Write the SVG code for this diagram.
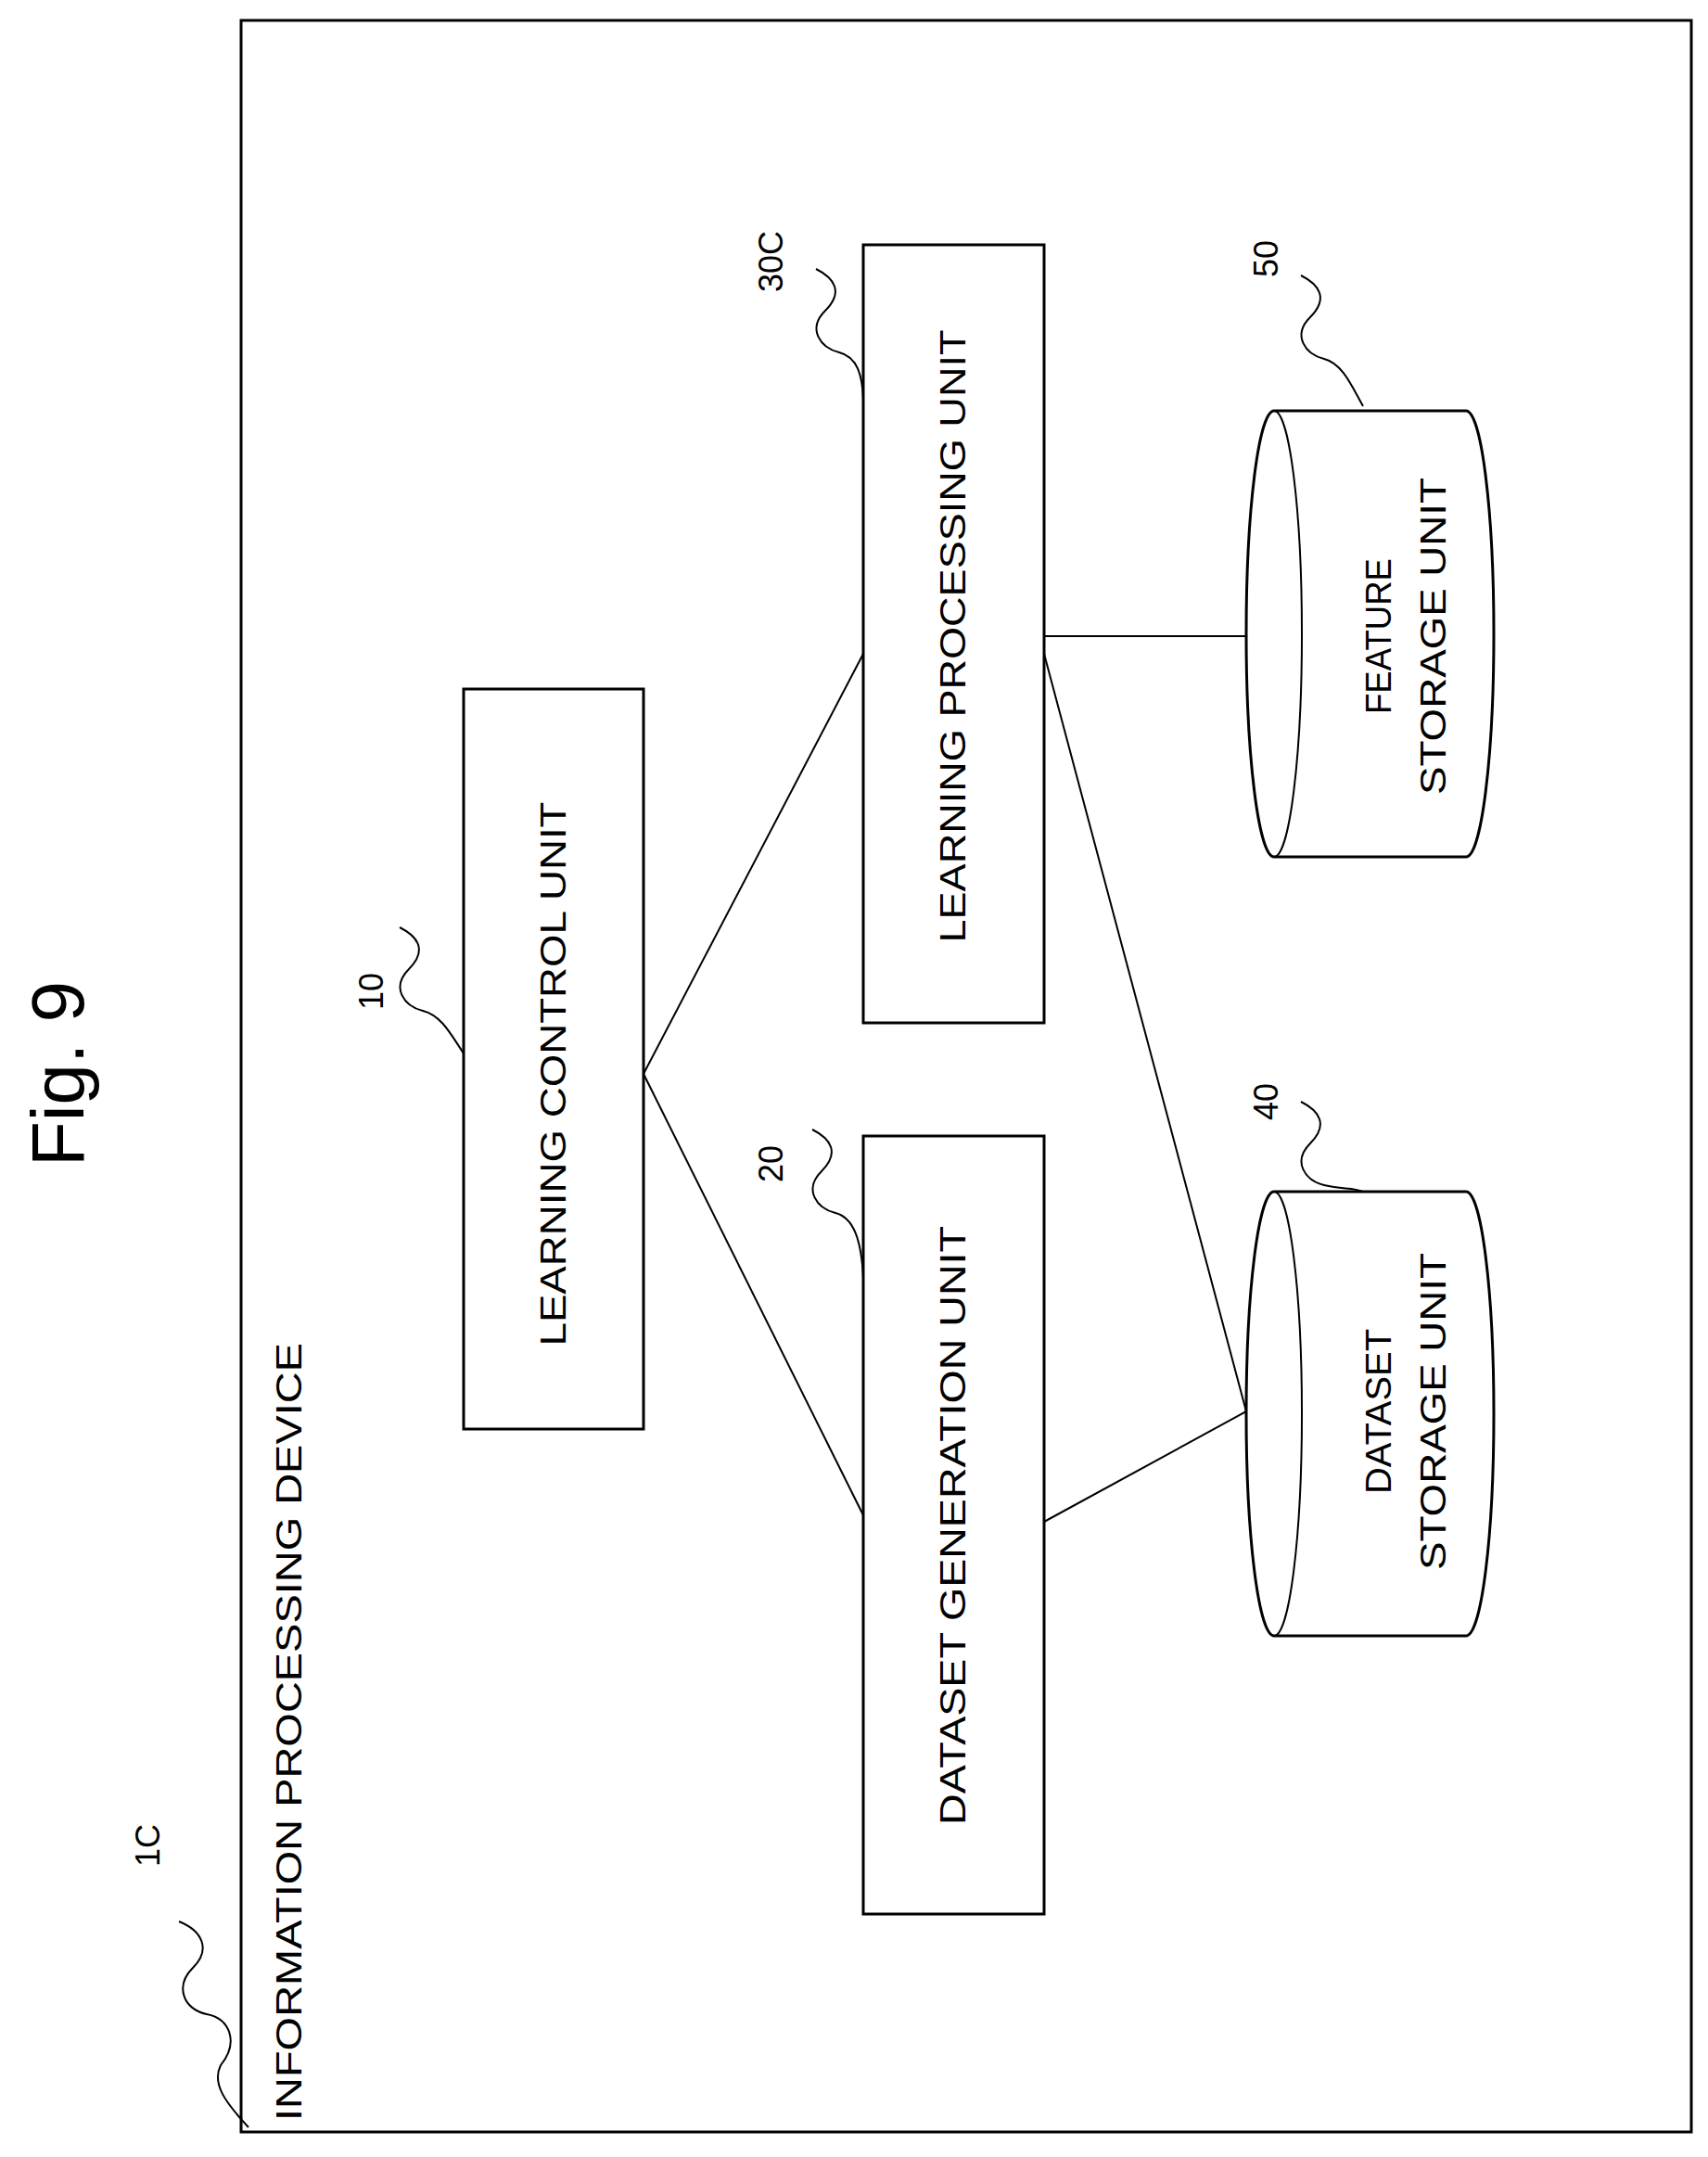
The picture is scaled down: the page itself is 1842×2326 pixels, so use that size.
<svg xmlns="http://www.w3.org/2000/svg" width="1842" height="2326" viewBox="0 0 1842 2326">
<style>
.b{fill:#fff;stroke:#000;stroke-width:3}
.l{fill:none;stroke:#000;stroke-width:2}
.t{font-family:"Liberation Sans",Arial,sans-serif;font-size:38px;fill:#000;text-anchor:middle}
.n{font-family:"Liberation Sans",Arial,sans-serif;font-size:36px;fill:#000;text-anchor:middle}
</style>
<rect width="1842" height="2326" fill="#fff"/>
<text x="90" y="1158" transform="rotate(-90 90 1158)" font-family="Liberation Sans,Arial,sans-serif" font-size="80" text-anchor="middle">Fig. 9</text>
<g id="device">
<rect class="b" x="260" y="22" width="1564" height="2277"/>
<text class="t" x="325" y="2287" text-anchor="start" style="text-anchor:start" textLength="839" lengthAdjust="spacingAndGlyphs" transform="rotate(-90 325 2287)">INFORMATION PROCESSING DEVICE</text>
<text class="n" x="172" y="1990" transform="rotate(-90 172 1990)">1C</text>
<path class="l" d="M193 2072 c25 10 35 30 15 50 c-20 20 -10 45 15 50 c25 5 35 30 15 55 c-10 20 5 40 30 67"/>
</g>
<g id="connectors">
<line class="l" x1="694" y1="1158" x2="931" y2="705"/>
<line class="l" x1="694" y1="1158" x2="931" y2="1634"/>
<line class="l" x1="1126" y1="686" x2="1344" y2="686"/>
<line class="l" x1="1126" y1="705" x2="1344" y2="1522"/>
<line class="l" x1="1126" y1="1641" x2="1344" y2="1522"/>
</g>
<g id="n10">
<rect class="b" x="500" y="743" width="194" height="798"/>
<text class="t" x="610" y="1158" textLength="587" lengthAdjust="spacingAndGlyphs" transform="rotate(-90 610 1158)">LEARNING CONTROL UNIT</text>
<text class="n" x="413" y="1069" transform="rotate(-90 413 1069)">10</text>
<path class="l" d="M431 1000 c20 10 30 25 10 45 c-20 20 -5 40 15 45 c20 5 30 25 44 46"/>
</g>
<g id="n30C">
<rect class="b" x="931" y="264" width="195" height="839"/>
<text class="t" x="1041" y="686" textLength="661" lengthAdjust="spacingAndGlyphs" transform="rotate(-90 1041 686)">LEARNING PROCESSING UNIT</text>
<text class="n" x="844" y="282" transform="rotate(-90 844 282)">30C</text>
<path class="l" d="M880 290 c20 10 30 25 10 45 c-20 20 -5 40 15 45 c20 5 25 25 26 51"/>
</g>
<g id="n20">
<rect class="b" x="931" y="1225" width="195" height="839"/>
<text class="t" x="1041" y="1645" textLength="646" lengthAdjust="spacingAndGlyphs" transform="rotate(-90 1041 1645)">DATASET GENERATION UNIT</text>
<text class="n" x="844" y="1255" transform="rotate(-90 844 1255)">20</text>
<path class="l" d="M876 1218 c20 10 30 25 10 45 c-20 20 -5 40 15 45 c20 5 28 30 30 70"/>
</g>
<g id="n50">
<path class="b" d="M1374 443 L1581 443 A30 240.5 0 0 1 1581 924 L1374 924 A30 240.5 0 0 1 1374 443 Z"/>
<path class="l" d="M1374 443 A30 240.5 0 0 1 1374 924"/>
<text class="t" x="1500" y="686" textLength="168" lengthAdjust="spacingAndGlyphs" transform="rotate(-90 1500 686)">FEATURE</text>
<text class="t" x="1559" y="686" textLength="342" lengthAdjust="spacingAndGlyphs" transform="rotate(-90 1559 686)">STORAGE UNIT</text>
<text class="n" x="1378" y="279" transform="rotate(-90 1378 279)">50</text>
<path class="l" d="M1403 297 c20 10 30 25 10 45 c-20 20 -5 40 15 45 c20 5 30 30 42 51"/>
</g>
<g id="n40">
<path class="b" d="M1374 1285 L1581 1285 A30 239.5 0 0 1 1581 1764 L1374 1764 A30 239.5 0 0 1 1374 1285 Z"/>
<path class="l" d="M1374 1285 A30 239.5 0 0 1 1374 1764"/>
<text class="t" x="1500" y="1522" textLength="178" lengthAdjust="spacingAndGlyphs" transform="rotate(-90 1500 1522)">DATASET</text>
<text class="t" x="1559" y="1522" textLength="342" lengthAdjust="spacingAndGlyphs" transform="rotate(-90 1559 1522)">STORAGE UNIT</text>
<text class="n" x="1378" y="1188" transform="rotate(-90 1378 1188)">40</text>
<path class="l" d="M1403 1188 c20 10 30 25 10 45 c-20 20 -5 40 15 45 c20 5 30 2 42 7"/>
</g>
</svg>
